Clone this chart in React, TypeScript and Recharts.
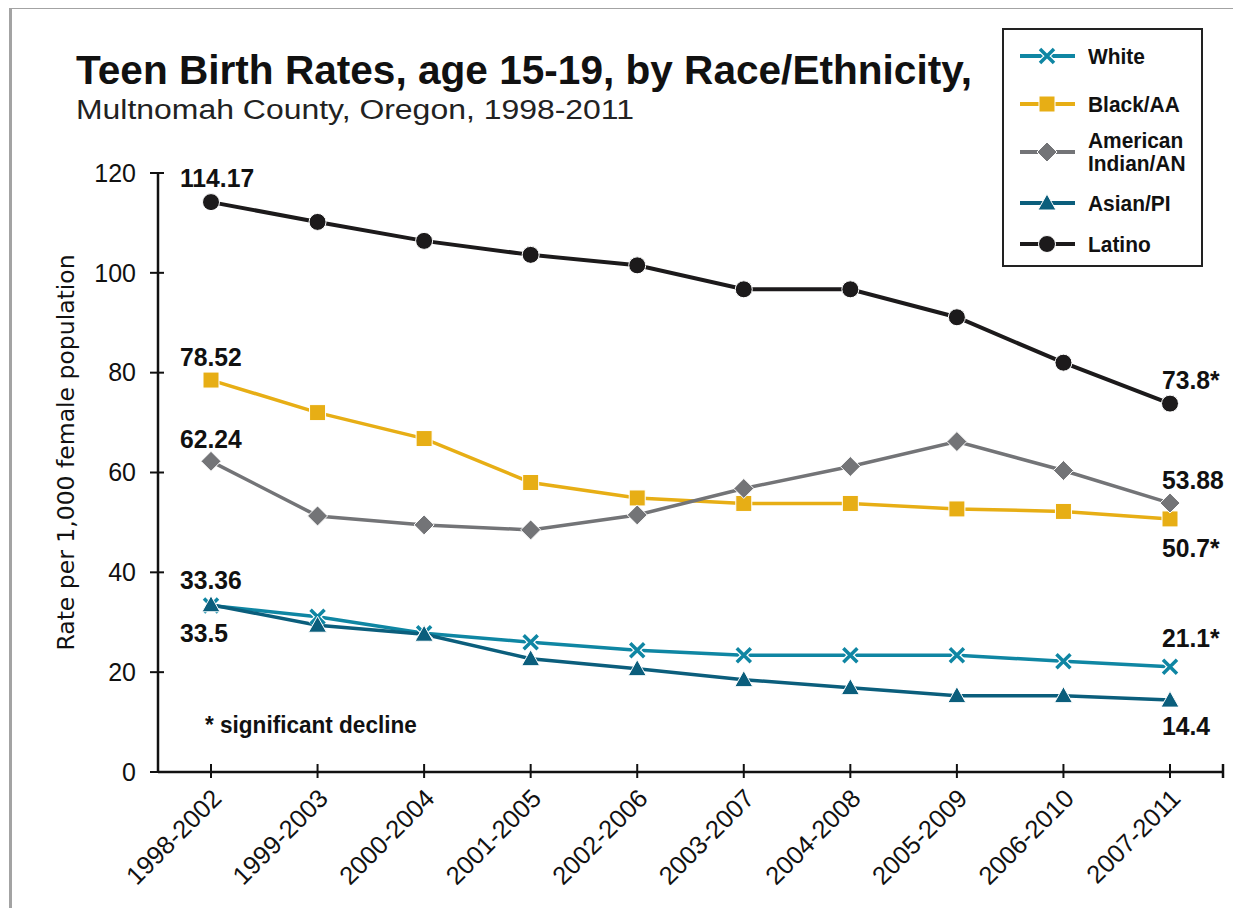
import { LineChart, Line, XAxis, YAxis, LabelList, Label } from 'recharts'

const periods = [
  '1998-2002', '1999-2003', '2000-2004', '2001-2005', '2002-2006',
  '2003-2007', '2004-2008', '2005-2009', '2006-2010', '2007-2011',
]

const white = [33.36, 31.1, 27.8, 26.0, 24.4, 23.4, 23.4, 23.4, 22.2, 21.1]
const blackAA = [78.52, 72.0, 66.8, 58.0, 54.9, 53.8, 53.8, 52.7, 52.2, 50.7]
const amIndian = [62.24, 51.3, 49.5, 48.5, 51.5, 56.8, 61.2, 66.2, 60.4, 53.88]
const asianPI = [33.5, 29.4, 27.6, 22.7, 20.7, 18.5, 16.9, 15.3, 15.3, 14.4]
const latino = [114.17, 110.2, 106.4, 103.6, 101.5, 96.7, 96.7, 91.1, 82.0, 73.8]

const yTicks = [0, 20, 40, 60, 80, 100, 120]

const firstLabels = { white: '33.36', blackAA: '78.52', amIndian: '62.24', asianPI: '33.5', latino: '114.17' }
const lastLabels = { white: '21.1*', blackAA: '50.7*', amIndian: '53.88', asianPI: '14.4', latino: '73.8*' }

const data = periods.map((period, i) => ({
  period,
  white: white[i],
  blackAA: blackAA[i],
  amIndian: amIndian[i],
  asianPI: asianPI[i],
  latino: latino[i],
}))

type Key = keyof typeof firstLabels

const KEYS: Key[] = ['white', 'blackAA', 'amIndian', 'asianPI', 'latino']

const COLORS: Record<Key, string> = {
  white: '#0f86a3',
  blackAA: '#e7ae15',
  amIndian: '#737477',
  asianPI: '#0b5e7c',
  latino: '#1c1a1b',
}

const NAMES: Record<Key, string> = {
  white: 'White',
  blackAA: 'Black/AA',
  amIndian: 'American Indian/AN',
  asianPI: 'Asian/PI',
  latino: 'Latino',
}

// label offsets (dy from the point) for first / last value labels
const LABEL_DY: Record<Key, [number, number]> = {
  white: [-16, -20],
  blackAA: [-14, 38],
  amIndian: [-13, -14],
  asianPI: [37, 35],
  latino: [-15, -15],
}

const X_PAD = 53

const BOLD = "'Liberation Sans', Arial, sans-serif"
const SANS = "'Liberation Sans', Arial, sans-serif"

function Marker({ kind, cx, cy }: { kind: Key; cx: number; cy: number }) {
  const c = COLORS[kind]
  if (kind === 'white') {
    const d = `M${cx - 7},${cy - 7}L${cx + 7},${cy + 7}M${cx + 7},${cy - 7}L${cx - 7},${cy + 7}`
    return (
      <g>
        <path d={d} stroke="#fff" strokeWidth={6} />
        <path d={d} stroke={c} strokeWidth={3.5} />
      </g>
    )
  }
  if (kind === 'blackAA') {
    return <rect x={cx - 8} y={cy - 8} width={16} height={16} fill={c} stroke="#fff" strokeWidth={1} />
  }
  if (kind === 'amIndian') {
    return <polygon points={`${cx},${cy - 10} ${cx + 10},${cy} ${cx},${cy + 10} ${cx - 10},${cy}`} fill={c} stroke="#fff" strokeWidth={1} />
  }
  if (kind === 'asianPI') {
    return <polygon points={`${cx},${cy - 9} ${cx + 9},${cy + 7} ${cx - 9},${cy + 7}`} fill={c} stroke="#fff" strokeWidth={1} />
  }
  return <circle cx={cx} cy={cy} r={8.5} fill={c} stroke="#fff" strokeWidth={1} />
}

const makeDot = (kind: Key) => (props: any) => (
  <Marker key={`${kind}-${props.index}`} kind={kind} cx={props.cx} cy={props.cy} />
)

const makeEndLabel = (kind: Key) => (props: any) => {
  const { x, y, index } = props
  const last = periods.length - 1
  if (index !== 0 && index !== last) return null
  const text = index === 0 ? firstLabels[kind] : lastLabels[kind]
  const dy = LABEL_DY[kind][index === 0 ? 0 : 1]
  const tx = index === 0 ? x - 31 : x - 8
  return (
    <text transform={`translate(${tx},${y + dy}) scale(0.95,1)`} fontFamily={BOLD} fontWeight="bold" fontSize={26} fill="#111">
      {text}
    </text>
  )
}

const YTick = (props: any) => {
  const { x, y, payload } = props
  return (
    <g>
      <line x1={x + 14} x2={x + 28} y1={y} y2={y} stroke="#111" strokeWidth={2} />
      <text x={x} y={y} dy="0.35em" textAnchor="end" fontFamily={SANS} fontSize={25} fill="#111">
        {payload.value}
      </text>
    </g>
  )
}

const XTick = (props: any) => {
  const { x, y, payload, index } = props
  return (
    <g>
      <line x1={x} x2={x} y1={y - 16} y2={y - 2} stroke="#111" strokeWidth={2} />
      {index === periods.length - 1 && (
        <line x1={x + X_PAD} x2={x + X_PAD} y1={y - 16} y2={y - 2} stroke="#111" strokeWidth={2.5} />
      )}
      <text x={x + 12} y={y + 20} textAnchor="end" transform={`rotate(-45, ${x + 12}, ${y + 20})`} fontFamily={SANS} fontSize={25.5} fill="#111">
        {payload.value}
      </text>
    </g>
  )
}

const LEGEND_ROWS = [26, 74, 122, 173, 214]

const LegendBox = () => (
  <div style={{ position: 'absolute', left: 994, top: 20, width: 197, height: 235, border: '2px solid #222', background: '#fff' }}>
    {KEYS.map((k, i) => (
      <div key={k} style={{ position: 'absolute', left: 0, top: LEGEND_ROWS[i] - 25, height: 50, display: 'flex', alignItems: 'center' }}>
        <svg width={84} height={50}>
          <line x1={16} x2={71} y1={25} y2={25} stroke={COLORS[k]} strokeWidth={4} />
          <Marker kind={k} cx={43} cy={25} />
        </svg>
        <div style={{ fontFamily: BOLD, fontWeight: 'bold', fontSize: 22, lineHeight: '23px', color: '#111', width: 110, transform: 'scaleX(0.95)', transformOrigin: 'left center' }}>
          {k === 'amIndian' ? (<>American<br />Indian/AN</>) : NAMES[k]}
        </div>
      </div>
    ))}
  </div>
)

export default function App() {
  return (
    <div style={{ position: 'relative', width: 1225, height: 900, background: '#fff' }}>
      <div style={{ position: 'absolute', left: 1, top: -2, width: 1224, height: 902, borderTop: '3px solid #a3a3a3', borderLeft: '3px solid #a3a3a3', boxSizing: 'border-box' }} />
      <svg width={1225} height={140} style={{ position: 'absolute', left: 0, top: 0 }}>
        <text x={68} y={76} fontFamily={BOLD} fontWeight="bold" fontSize={40} fill="#111" textLength={896} lengthAdjust="spacingAndGlyphs">
          Teen Birth Rates, age 15-19, by Race/Ethnicity,
        </text>
        <text x={68} y={111} fontFamily={SANS} fontSize={27} fill="#222" textLength={558} lengthAdjust="spacingAndGlyphs">
          Multnomah County, Oregon, 1998-2011
        </text>
      </svg>
      <div style={{ position: 'absolute', left: 0, top: 0 }}>
        <LineChart width={1225} height={900} data={data} margin={{ top: 165, right: 10, bottom: 16, left: 90 }}>
          <XAxis
            dataKey="period"
            padding={{ left: X_PAD, right: X_PAD }}
            axisLine={{ stroke: '#111', strokeWidth: 2.5 }}
            tickLine={false}
            tickSize={6}
            tickMargin={2}
            height={120}
            interval={0}
            tick={<XTick />}
          />
          <YAxis
            domain={[0, 120]}
            ticks={yTicks}
            width={60}
            axisLine={{ stroke: '#111', strokeWidth: 2.5 }}
            tickLine={false}
            tickSize={6}
            tickMargin={16}
            tick={<YTick />}
          >
            <Label
              content={(p: any) => {
                const vb = p.viewBox
                const cx = vb.x - 24
                const cy = vb.y + vb.height / 2 - 20
                return (
                  <text x={cx} y={cy} transform={`rotate(-90, ${cx}, ${cy})`} textAnchor="middle" fontFamily="'DejaVu Sans', sans-serif" fontSize={23.5} fill="#111">
                    Rate per 1,000 female population
                  </text>
                )
              }}
            />
          </YAxis>
          {KEYS.map((k) => (
            <Line
              key={k}
              type="linear"
              dataKey={k}
              name={NAMES[k]}
              stroke={COLORS[k]}
              strokeWidth={k === 'latino' ? 4 : 3.5}
              dot={makeDot(k)}
              activeDot={false}
              isAnimationActive={false}
            >
              <LabelList dataKey={k} content={makeEndLabel(k)} />
            </Line>
          ))}
        </LineChart>
      </div>
      <LegendBox />
      <svg width={1225} height={900} style={{ position: 'absolute', left: 0, top: 0, pointerEvents: 'none' }}>
        <text transform="translate(197,725) scale(0.94,1)" fontFamily={BOLD} fontWeight="bold" fontSize={24} fill="#111">
          * significant decline
        </text>
      </svg>
    </div>
  )
}
